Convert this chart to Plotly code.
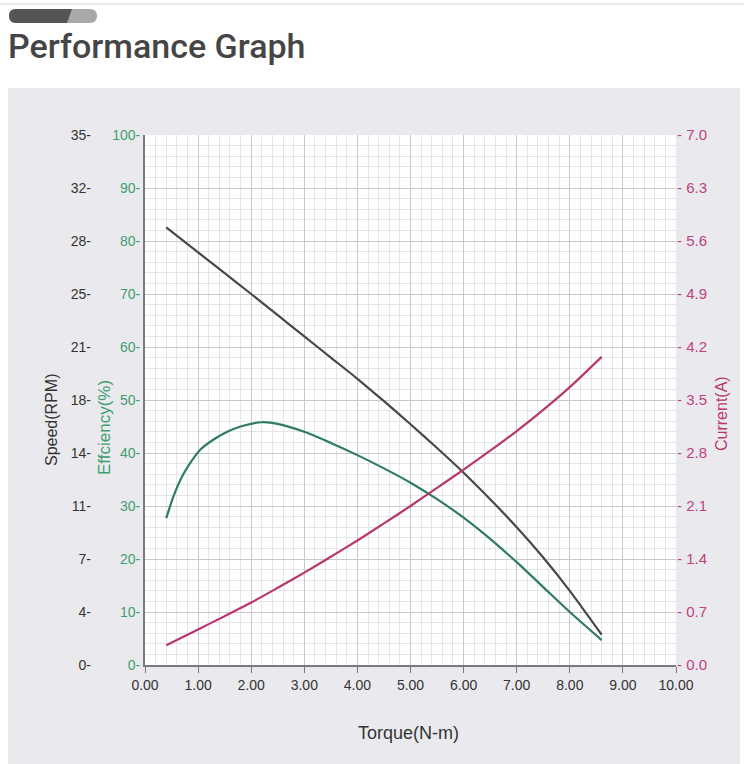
import plotly.graph_objects as go

W, H = 744, 764

# ---- data ----
torque_speed = [0.4, 1.0, 1.5, 2.0, 2.5, 3.0, 3.5, 4.0, 4.5, 5.0, 5.5, 6.0, 6.5, 7.0, 7.5, 8.0, 8.6]
speed_rpm = [28.9, 27.25, 25.88, 24.5, 23.1, 21.7, 20.3, 18.9, 17.42, 15.9, 14.33, 12.7,
             10.95, 9.1, 7.1, 4.9, 2.0]

torque_eff = [0.4, 0.55, 0.7, 0.85, 1.05, 1.3, 1.55, 1.8, 2.2, 2.5, 3.0, 3.5, 4.0, 4.5,
              5.0, 5.5, 6.0, 6.5, 7.0, 7.5, 8.0, 8.6]
efficiency_pct = [27.7, 32.2, 35.6, 38.1, 40.7, 42.6, 44.0, 45.0, 45.8, 45.5, 44.0, 41.9,
                  39.6, 37.1, 34.4, 31.3, 27.8, 23.8, 19.4, 14.7, 10.0, 4.7]

torque_cur = [0.4, 1.0, 1.5, 2.0, 2.5, 3.0, 3.5, 4.0, 4.5, 5.0, 5.5, 6.0, 6.5, 7.0, 7.5, 8.0, 8.6]
current_a = [0.26, 0.47, 0.645, 0.825, 1.02, 1.22, 1.43, 1.645, 1.87, 2.10, 2.34, 2.58,
             2.83, 3.09, 3.37, 3.67, 4.07]

speed_tickvals = [0, 3.5, 7, 10.5, 14, 17.5, 21, 24.5, 28, 31.5, 35]
speed_ticktext = ["0", "4", "7", "11", "14", "18", "21", "25", "28", "32", "35"]

title_text = "Performance Graph"
x_title = "Torque(N-m)"
speed_title = "Speed(RPM)"
eff_title = "Effciency(%)"
cur_title = "Current(A)"

# ---- styles ----
C_SPEED = "#484848"
C_EFF = "#2f7d5c"
C_CUR = "#b8376e"
C_EFF_TXT = "#3f9e6e"
C_CUR_TXT = "#c0407e"
FONT = "Liberation Sans, Arial, sans-serif"
PANEL = "#eaeaee"


def fx(px):
    return px / W


def fy(py):
    return 1 - py / H


def pt(px, py):
    return f"{fx(px):.5f},{fy(py):.5f}"


fig = go.Figure()
fig.add_trace(go.Scatter(x=torque_speed, y=speed_rpm, yaxis="y2", mode="lines",
                         line=dict(color=C_SPEED, width=2.2, shape="spline", smoothing=0.7),
                         hoverinfo="skip", showlegend=False))
fig.add_trace(go.Scatter(x=torque_eff, y=efficiency_pct, yaxis="y", mode="lines",
                         line=dict(color=C_EFF, width=2.2, shape="spline", smoothing=0.8),
                         hoverinfo="skip", showlegend=False))
fig.add_trace(go.Scatter(x=torque_cur, y=current_a, yaxis="y3", mode="lines",
                         line=dict(color=C_CUR, width=2.2, shape="spline", smoothing=0.7),
                         hoverinfo="skip", showlegend=False))

ydom = [fy(665), fy(135)]

fig.update_layout(
    width=W, height=H, autosize=False,
    margin=dict(l=0, r=0, t=0, b=0, pad=0, autoexpand=False),
    paper_bgcolor=PANEL,
    plot_bgcolor="white",
    font=dict(family=FONT, size=14, color="#333333"),
    xaxis=dict(
        domain=[fx(145), fx(676)], range=[0, 10], dtick=1, tick0=0, automargin=False,
        tickformat=".2f", showline=True, linecolor="#7a7a7a", linewidth=2,
        ticks="outside", ticklen=6, tickwidth=1, tickcolor="#777777",
        showgrid=True, gridcolor="#c9c9c9", gridwidth=1, zeroline=False,
        minor=dict(dtick=0.2, tick0=0, showgrid=True, gridcolor="#e5e5e5", gridwidth=1, ticks=""),
        tickfont=dict(size=14, color="#333333"),
        fixedrange=True,
    ),
    yaxis=dict(
        domain=ydom, range=[0, 100], dtick=10, tick0=0, ticksuffix="-", automargin=False,
        showline=True, linecolor="#7a7a7a", linewidth=2, ticks="",
        showgrid=True, gridcolor="#c9c9c9", gridwidth=1, zeroline=False,
        minor=dict(dtick=2, tick0=0, showgrid=True, gridcolor="#e5e5e5", gridwidth=1, ticks=""),
        tickfont=dict(size=14, color=C_EFF_TXT),
        fixedrange=True,
    ),
    yaxis2=dict(
        overlaying="y", anchor="free", position=fx(91), side="left", automargin=False,
        range=[0, 35], tickmode="array", tickvals=speed_tickvals,
        ticktext=[t + "-" for t in speed_ticktext],
        showline=False, ticks="", showgrid=False, zeroline=False,
        tickfont=dict(size=14, color="#333333"),
        fixedrange=True,
    ),
    yaxis3=dict(
        overlaying="y", anchor="x", side="right", automargin=False,
        range=[0, 7], dtick=0.7, tick0=0, tickformat=".1f", tickprefix="- ",
        showline=False, ticks="", showgrid=False, zeroline=False,
        tickfont=dict(size=15, color=C_CUR_TXT),
        fixedrange=True,
    ),
)

# header background and side strips
shapes = [
    dict(type="rect", xref="paper", yref="paper", x0=0, x1=1, y0=fy(88), y1=1,
         fillcolor="white", line=dict(width=0), layer="below"),
    dict(type="rect", xref="paper", yref="paper", x0=0, x1=fx(8), y0=0, y1=fy(88),
         fillcolor="white", line=dict(width=0), layer="below"),
    dict(type="rect", xref="paper", yref="paper", x0=fx(740), x1=1, y0=0, y1=fy(88),
         fillcolor="white", line=dict(width=0), layer="below"),
    dict(type="line", xref="paper", yref="paper", x0=0, x1=1, y0=fy(4), y1=fy(4),
         line=dict(color="#e2e2e2", width=1.5)),
]
# pill icon
r = 7
x0, x1, y0, y1 = 9, 97, 9, 23
light = (f"M{pt(x0 + r, y0)} L{pt(x1 - r, y0)} Q{pt(x1, y0)} {pt(x1, (y0 + y1) / 2)} "
         f"Q{pt(x1, y1)} {pt(x1 - r, y1)} L{pt(x0 + r, y1)} Q{pt(x0, y1)} {pt(x0, (y0 + y1) / 2)} "
         f"Q{pt(x0, y0)} {pt(x0 + r, y0)} Z")
dark = (f"M{pt(x0 + r, y0)} L{pt(72, y0)} L{pt(67, y1)} L{pt(x0 + r, y1)} "
        f"Q{pt(x0, y1)} {pt(x0, (y0 + y1) / 2)} Q{pt(x0, y0)} {pt(x0 + r, y0)} Z")
shapes.append(dict(type="path", xref="paper", yref="paper", path=light,
                   fillcolor="#a9a9a9", line=dict(width=0)))
shapes.append(dict(type="path", xref="paper", yref="paper", path=dark,
                   fillcolor="#555555", line=dict(width=0)))
fig.update_layout(shapes=shapes)

annotations = [
    dict(text=title_text, xref="paper", yref="paper", x=fx(6), y=fy(46),
         xanchor="left", yanchor="middle", showarrow=False,
         font=dict(family="Roboto, sans-serif", size=34, color="#454545", weight=500)),
    dict(text=x_title, xref="paper", yref="paper", x=fx(409), y=fy(733),
         xanchor="center", yanchor="middle", showarrow=False,
         font=dict(family=FONT, size=18, color="#333333")),
    dict(text=speed_title, xref="paper", yref="paper", x=fx(51), y=fy(420),
         xanchor="center", yanchor="middle", showarrow=False, textangle=-90,
         font=dict(family=FONT, size=16, color="#333333")),
    dict(text=eff_title, xref="paper", yref="paper", x=fx(104), y=fy(427),
         xanchor="center", yanchor="middle", showarrow=False, textangle=-90,
         font=dict(family=FONT, size=17, color=C_EFF_TXT)),
    dict(text=cur_title, xref="paper", yref="paper", x=fx(721), y=fy(414),
         xanchor="center", yanchor="middle", showarrow=False, textangle=-90,
         font=dict(family=FONT, size=16, color=C_CUR)),
]
fig.update_layout(annotations=annotations)

post = ("document.documentElement.style.margin='0';document.body.style.margin='0';"
        "document.body.style.padding='0';document.body.style.overflow='hidden';")

fig.write_html("out.html", config={"responsive": False, "displayModeBar": False},
               post_script=post)
